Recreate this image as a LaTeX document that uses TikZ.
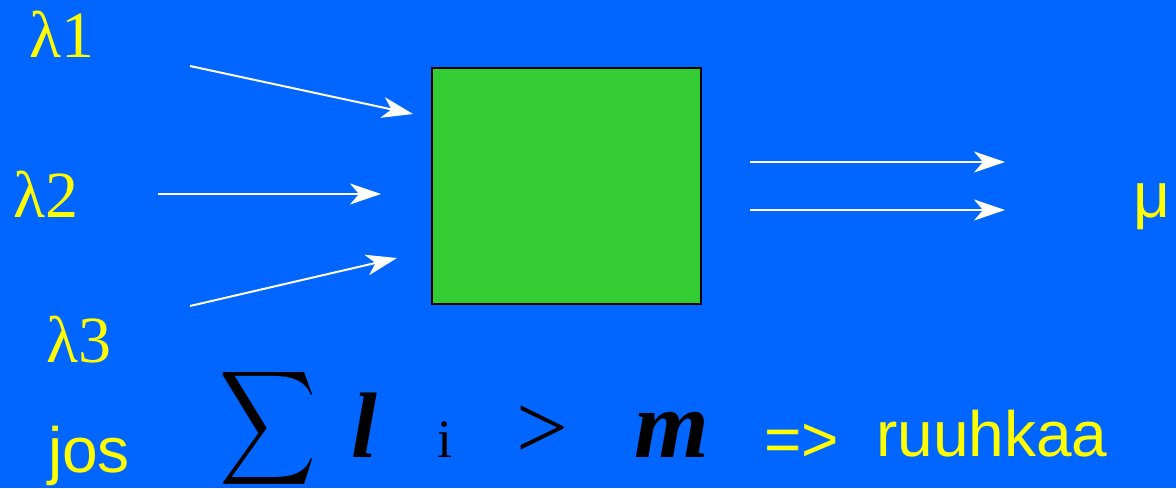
\documentclass[tikz,border=0pt]{standalone}
\usepackage{fontspec}
\setmainfont{Liberation Serif}
\newfontfamily\sansfnt{Liberation Sans}
\usetikzlibrary{arrows.meta}
\definecolor{bgblue}{RGB}{0,102,255}
\definecolor{boxgreen}{RGB}{51,204,51}
\definecolor{txtyellow}{RGB}{255,255,0}
\tikzset{
  lbl/.style={text=txtyellow, inner sep=0pt, anchor=base west, font=\fontsize{66}{66}\selectfont},
  slbl/.style={text=txtyellow, inner sep=0pt, anchor=base west, font=\sansfnt\fontsize{64}{64}\selectfont},
  blk/.style={text=black, inner sep=0pt, anchor=base west},
  arr/.style={draw=white, line width=2pt, -{Stealth[length=31pt,width=21pt,inset=9pt]}},
  queue/.style={draw=black, line width=2pt, fill=boxgreen}
}
\begin{document}
\begin{tikzpicture}[x=1pt,y=-1pt]
\useasboundingbox (0,0) rectangle (1176,488);
\fill[bgblue] (0,0) rectangle (1176,488);
% labels
\node[lbl] (l1) at (29,57) {λ1};
\node[lbl] (l2) at (13,217) {λ2};
\node[lbl] (l3) at (46,362) {λ3};
\node[slbl] (mu) at (1133,217) {μ};
% box
\node[queue, minimum width=269pt, minimum height=236pt, inner sep=0pt] (box) at (566.5,186) {};
% arrows
\coordinate (a1s) at (190,66);  \coordinate (a1e) at (413,114);
\coordinate (a2s) at (158,194); \coordinate (a2e) at (381,194);
\coordinate (a3s) at (190,306); \coordinate (a3e) at (397,258);
\coordinate (o1s) at (750,162); \coordinate (o1e) at (1005,162);
\coordinate (o2s) at (750,210); \coordinate (o2e) at (1005,210);
\draw[arr] (a1s) -- (a1e);
\draw[arr] (a2s) -- (a2e);
\draw[arr] (a3s) -- (a3e);
\draw[arr] (o1s) -- (o1e);
\draw[arr] (o2s) -- (o2e);
% bottom formula
\node[slbl] (jos) at (48,472) {jos};
\node[text=black, inner sep=0pt, anchor=north west] (sigma) at (219,364) {\resizebox*{97pt}{128pt}{$\displaystyle\sum$}};
\node[blk, font=\fontsize{93}{93}\selectfont\bfseries\itshape] (lam) at (351,457) {l};
\node[blk, font=\fontsize{54}{54}\selectfont] (idx) at (437,457) {i};
\node[blk, font=\fontsize{92}{92}\selectfont] (gt) at (516,458) {>};
\node[blk, font=\fontsize{96}{96}\selectfont\bfseries\itshape] (mm) at (634,457) {m};
\node[slbl] (impl) at (764,461) {=>};
\node[slbl] (ruuh) at (876,456) {ruuhkaa};
\end{tikzpicture}
\end{document}
